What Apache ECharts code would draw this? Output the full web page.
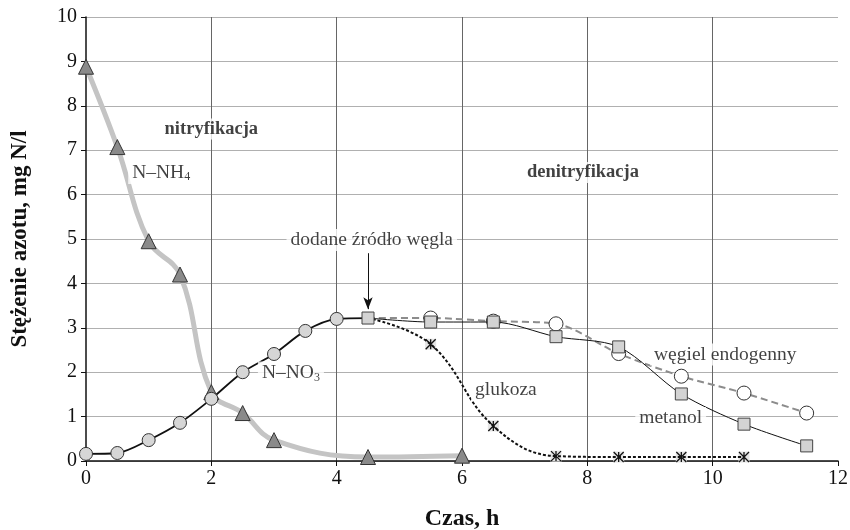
<!DOCTYPE html>
<html>
<head>
<meta charset="utf-8">
<script src="https://cdn.jsdelivr.net/npm/echarts@6/dist/echarts.min.js"></script>
<style>html,body{margin:0;padding:0;background:#fff}#c{width:850px;height:530px}</style>
</head>
<body>
<div id="c"></div>
<script>
// ---- data ----
const xTicks = [0, 2, 4, 6, 8, 10, 12];
const yTicks = [0, 1, 2, 3, 4, 5, 6, 7, 8, 9, 10];

const timeNH4 = [0, 0.5, 1, 1.5, 2, 2.5, 3, 4.5, 6];
const nh4 = [8.88, 7.07, 4.95, 4.2, 1.55, 1.08, 0.47, 0.09, 0.12];

const timeNO3 = [0, 0.5, 1, 1.5, 2, 2.5, 3, 3.5, 4, 4.5];
const no3 = [0.16, 0.18, 0.47, 0.86, 1.4, 2.0, 2.41, 2.93, 3.2, 3.22];

const timeC = [4.5, 5.5, 6.5, 7.5, 8.5, 9.5, 10.5, 11.5];
const glukoza = [3.22, 2.63, 0.79, 0.11, 0.09, 0.09, 0.09, null];
const metanol = [3.22, 3.13, 3.13, 2.8, 2.57, 1.51, 0.83, 0.34];
const endogenny = [3.22, 3.22, 3.15, 3.09, 2.42, 1.91, 1.53, 1.08];

const annotations = [
  {text: '{b|nitryfikacja}', x: 2.0, y: 7.48},
  {text: 'N–NH{s|4}', x: 1.2, y: 6.5},
  {text: '{b|denitryfikacja}', x: 7.93, y: 6.5},
  {text: 'dodane źródło węgla', x: 4.56, y: 4.98},
  {text: 'N–NO{s|3}', x: 3.27, y: 1.98},
  {text: 'glukoza', x: 6.7, y: 1.6},
  {text: 'węgiel endogenny', x: 10.2, y: 2.4},
  {text: 'metanol', x: 9.33, y: 0.97}
];
const arrowFrom = [4.5, 4.68];
const arrowTo = [4.5, 3.42];

const zip = (xs, ys) => xs.map((x, i) => [x, ys[i]]);
const FONT = '"Liberation Serif", "DejaVu Serif", serif';

const chart = echarts.init(document.getElementById('c'), null, {renderer: 'canvas'});

const asterisk = 'path://M0,0L10,10M10,0L0,10M5,0L5,10';

const option = {
  animation: false,
  backgroundColor: '#fff',
  grid: {left: 86, right: 12, top: 17, bottom: 69, containLabel: false, outerBoundsMode: 'none'},
  xAxis: {
    type: 'value', min: xTicks[0], max: xTicks[xTicks.length - 1], interval: 2,
    name: 'Czas, h', nameLocation: 'middle', nameGap: 46,
    nameTextStyle: {fontFamily: FONT, fontWeight: 'bold', fontSize: 24, color: '#111'},
    axisLine: {show: true, onZero: false, lineStyle: {color: '#111', width: 1.5}},
    axisTick: {show: true, length: 5, inside: false, lineStyle: {color: '#111'}},
    axisLabel: {fontFamily: FONT, fontSize: 20, color: '#111', margin: 8},
    splitLine: {show: true, lineStyle: {color: ['transparent', '#666', '#666', '#666', '#666', '#666', 'transparent'], width: 1}}
  },
  yAxis: {
    type: 'value', min: yTicks[0], max: yTicks[yTicks.length - 1], interval: 1,
    name: 'Stężenie azotu, mg N/l', nameLocation: 'middle', nameGap: 54, nameRotate: 90,
    nameTextStyle: {fontFamily: FONT, fontWeight: 'bold', fontSize: 23, color: '#111'},
    axisLine: {show: true, lineStyle: {color: '#111', width: 1.5}},
    axisTick: {show: true, length: 5, lineStyle: {color: '#111'}},
    axisLabel: {fontFamily: FONT, fontSize: 20, color: '#111', margin: 9},
    splitLine: {show: true, lineStyle: {color: '#b0b0b0', width: 1}}
  },
  series: [
    {
      name: 'N-NH4', type: 'line', smooth: 0.4, z: 3,
      data: zip(timeNH4, nh4),
      lineStyle: {color: '#c4c4c4', width: 5},
      symbol: 'triangle', symbolSize: 15,
      itemStyle: {color: '#8a8a8a', borderColor: '#333', borderWidth: 1}
    },
    {
      name: 'N-NO3', type: 'line', smooth: 0.3, z: 4,
      data: zip(timeNO3, no3).map((p, i, a) => i === a.length - 1 ? {value: p, symbol: 'none'} : p),
      lineStyle: {color: '#111', width: 1.8},
      symbol: 'circle', symbolSize: 13,
      itemStyle: {color: '#d6d6d6', borderColor: '#333', borderWidth: 1}
    },
    {
      name: 'glukoza-bg', type: 'line', z: 4, silent: true,
      data: zip(timeC, glukoza).slice(1),
      lineStyle: {width: 0, opacity: 0},
      symbol: 'rect', symbolSize: 11,
      itemStyle: {color: '#e3e3e3', borderWidth: 0}
    },
    {
      name: 'glukoza', type: 'line', smooth: 0.4, z: 5,
      data: zip(timeC, glukoza).map((p, i) => i === 0 ? {value: p, symbol: 'none'} : p),
      lineStyle: {color: '#111', width: 2, type: [3, 2]},
      symbol: asterisk, symbolSize: 10,
      itemStyle: {color: 'transparent', borderColor: '#111', borderWidth: 1.3}
    },
    {
      name: 'węgiel endogenny', type: 'line', smooth: 0.3, z: 5,
      data: zip(timeC, endogenny).map((p, i) => i === 0 ? {value: p, symbol: 'none'} : p),
      lineStyle: {color: '#8c8c8c', width: 2, type: [7, 4]},
      symbol: 'circle', symbolSize: 14,
      itemStyle: {color: '#fff', borderColor: '#333', borderWidth: 1}
    },
    {
      name: 'metanol', type: 'line', smooth: 0.3, z: 6,
      data: zip(timeC, metanol),
      lineStyle: {color: '#111', width: 1},
      symbol: 'rect', symbolSize: 12,
      itemStyle: {color: '#d3d3d3', borderColor: '#444', borderWidth: 1}
    },
    {
      name: 'annotations', type: 'scatter', z: 10, silent: true,
      data: annotations.map(a => ({value: [a.x, a.y], label: {formatter: a.text}})),
      symbolSize: 0,
      label: {
        show: true, position: 'inside', fontFamily: FONT, fontSize: 19.5, color: '#111',
        backgroundColor: '#fff', padding: [1, 4, 1, 4],
        rich: {
          b: {fontFamily: FONT, fontSize: 18.5, fontWeight: 'bold', color: '#111'},
          s: {fontFamily: FONT, fontSize: 12, color: '#111', padding: [9, 0, 0, 0]}
        }
      },
      markLine: {
        silent: true, symbol: ['none', 'arrow'], symbolSize: [7, 12],
        label: {show: false},
        lineStyle: {color: '#111', width: 1, type: 'solid'},
        data: [[{coord: arrowFrom}, {coord: arrowTo}]]
      }
    }
  ]
};
chart.setOption(option);
</script>
</body>
</html>
